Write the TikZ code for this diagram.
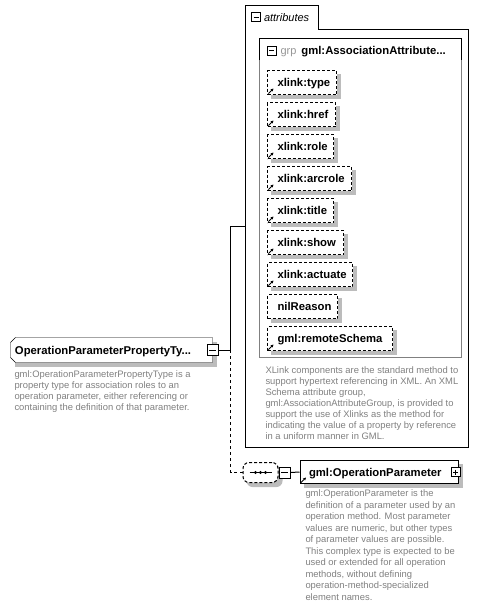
\documentclass[tikz,border=0pt]{standalone}
\usepackage{fontspec}
\setmainfont{Liberation Sans}
\usetikzlibrary{arrows.meta,positioning,backgrounds}

\definecolor{descgray}{RGB}{128,128,128}
\definecolor{grpgray}{RGB}{150,150,150}
\definecolor{shadowgray}{RGB}{188,188,188}

\begin{document}
\begin{tikzpicture}[x=1pt, y=-1pt, line width=1pt,
    namefont/.style={font=\fontsize{11.3}{13}\selectfont\bfseries},
    descfont/.style={font=\fontsize{9.4}{11}\selectfont, text=descgray, align=left, anchor=north west, inner sep=0pt},
    boxshadow/.style={fill=shadowgray, draw=none},
    attrbox/.style={draw, dash pattern=on 3pt off 2pt, fill=white, anchor=north west,
      inner xsep=0pt, minimum height=24pt, text height=8pt, text depth=0pt, align=left, namefont,
      text width=#1, execute at begin node={\hspace*{10pt}}},
    elembox/.style={draw, fill=white, inner xsep=0pt, minimum height=24pt,
      text height=8pt, text depth=0pt, align=left, namefont},
    togglebox/.style={draw, fill=white, minimum size=#1, inner sep=0pt},
    minusbox/.style={togglebox=#1, path picture={\draw ([xshift=2pt]path picture bounding box.west) -- ([xshift=-2pt]path picture bounding box.east);}},
    plusbox/.style={togglebox=#1, path picture={\draw ([xshift=2pt]path picture bounding box.west) -- ([xshift=-2pt]path picture bounding box.east);
      \draw ([yshift=-2pt]path picture bounding box.north) -- ([yshift=2pt]path picture bounding box.south);}},
    refmark/.style={line width=0.9pt, -{Stealth[length=3pt,width=3pt]}},
    labeltext/.style={inner sep=0pt, anchor=west, text height=8pt, text depth=0pt}]
  \useasboundingbox (0,0) rectangle (479,606);

  % attributes container with its tab
  \draw (245,447) -- (245,5) -- (318,5) -- (318,29) -- (468,29) -- (468,447) -- cycle;
  \node[minusbox=9pt] (tabtoggle) at (256,17) {};
  \node[labeltext, font=\fontsize{11}{13}\selectfont\itshape, right=2.5pt of tabtoggle] (tablabel) {attributes};

  % attribute group
  \draw[descgray] (259,38) rectangle (461,357);
  \draw (259,60) -- (259,38) -- (461,38) -- (461,60);
  \node[minusbox=9pt] (grptoggle) at (271.5,50.5) {};
  \node[labeltext, font=\fontsize{11}{13}\selectfont, text=grpgray, right=3.5pt of grptoggle] (grptag) {grp};
  \node[labeltext, namefont, right=4pt of grptag] (grpname) {gml:AssociationAttribute...};

  % attributes
  \node[attrbox=69pt] (type) at (267,70) {xlink:type};
  \node[attrbox=68pt] (href) at (267,102) {xlink:href};
  \node[attrbox=66pt] (role) at (267,134) {xlink:role};
  \node[attrbox=84pt] (arcrole) at (267,166) {xlink:arcrole};
  \node[attrbox=66pt] (title) at (267,198) {xlink:title};
  \node[attrbox=76pt] (show) at (267,230) {xlink:show};
  \node[attrbox=85pt] (actuate) at (267,262) {xlink:actuate};
  \node[attrbox=70pt] (nilreason) at (267,294) {nilReason};
  \node[attrbox=125pt] (remote) at (267,326) {gml:remoteSchema};
  \foreach \a in {type,href,role,arcrole,title,show,actuate,remote}
    \draw[refmark] ([shift={(1.5,-1.5)}]\a.south west) -- ++(5,-5);

  \node[descfont] (attrdesc) at (265,366.5) {XLink components are the standard method to\\
    support hypertext referencing in XML. An XML\\
    Schema attribute group,\\
    gml:AssociationAttributeGroup, is provided to\\
    support the use of Xlinks as the method for\\
    indicating the value of a property by reference\\
    in a uniform manner in GML.};

  % property type element (chamfered on the left)
  \node[namefont, inner xsep=0pt, minimum height=24pt, text height=8pt, text depth=0pt,
    text width=201pt, align=left, execute at begin node={\hspace*{4pt}}]
    (proptype) at (111.5,350) {OperationParameterPropertyTy...};
  \node[minusbox=11pt] (proptoggle) at (212.5,350) {};
  \node[descfont] (propdesc) at (14,370.5) {gml:OperationParameterPropertyType is a\\
    property type for association roles to an\\
    operation parameter, either referencing or\\
    containing the definition of that parameter.};

  % sequence and child element
  \node[draw, dash pattern=on 3pt off 2pt, fill=white, rounded corners=6pt,
    minimum width=35pt, minimum height=20pt, inner sep=0pt] (seq) at (260.5,472.5) {};
  \draw ([xshift=-11pt]seq.center) -- ([xshift=11pt]seq.center);
  \foreach \dx in {-5,0,5}
    \fill ([xshift=\dx pt]seq.center) circle (1.7pt);
  \node[minusbox=11pt] (seqtoggle) at (284.5,472.5) {};

  \node[elembox, text width=158pt, minimum height=23pt, execute at begin node={\hspace*{9pt}}]
    (param) at (379,472) {gml:OperationParameter};
  \node[plusbox=9pt] (paramtoggle) at (455.5,472) {};
  \draw[refmark] ([shift={(1.5,-1.5)}]param.south west) -- ++(5,-5);
  \node[descfont, font=\fontsize{9.4}{11.5}\selectfont] (paramdesc) at (305,489.5) {gml:OperationParameter is the\\
    definition of a parameter used by an\\
    operation method. Most parameter\\
    values are numeric, but other types\\
    of parameter values are possible.\\
    This complex type is expected to be\\
    used or extended for all operation\\
    methods, without defining\\
    operation-method-specialized\\
    element names.};

  % shadows and the chamfered outline
  \begin{scope}[on background layer]
    \foreach \a in {type,href,role,arcrole,title,show,actuate,nilreason,remote,param}
      \fill[boxshadow] ([shift={(4,4)}]\a.north west) rectangle ([shift={(4,4)}]\a.south east);
    \fill[boxshadow, rounded corners=6pt] ([shift={(4,4)}]seq.north west) rectangle ([shift={(4,4)}]seq.south east);
    \fill[boxshadow] ([shift={(4,4)}]proptype.north west) rectangle ([shift={(4,4)}]proptype.south east);
    \draw[fill=white] ([xshift=5pt]proptype.north west) -- (proptype.north east)
      -- (proptype.south east) -- ([xshift=5pt]proptype.south west)
      -- ([yshift=5pt]proptype.south west) -- ([yshift=-5pt]proptype.north west) -- cycle;
  \end{scope}

  % connectors
  \coordinate (fork) at (230.7,350);
  \coordinate (attrin) at (245,226);
  \draw (proptoggle.east) -- (fork) |- (attrin);
  \draw[dash pattern=on 3pt off 3pt] (fork) |- (seq.west);
  \draw (seqtoggle.east) -- (param.west);
\end{tikzpicture}
\end{document}
